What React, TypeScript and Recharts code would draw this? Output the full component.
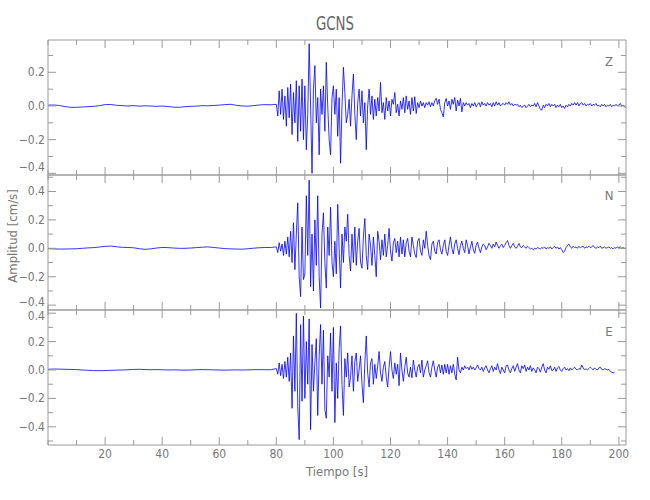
import React from 'react'
import { LineChart, Line, XAxis, YAxis } from 'recharts'

// sampling: pre-event every 2 s from 0 s, event window every 0.5 s from 80 s
const PRE_T0 = 0
const PRE_DT = 2
const EVT_T0 = 80
const EVT_DT = 0.5

const zPre = [
  0.005, 0.006, 0.003, -0.004, -0.008, -0.008, -0.006, -0.004, -0.002, 0.002,
  0.008, 0.009, 0.004, 0.002, 0.0, 0.002, -0.001, 0.001, 0.0, -0.002,
  0.0, -0.003, -0.007, -0.008, -0.004, -0.002, -0.001, 0.002, 0.001, 0.003,
  0.005, 0.008, 0.01, 0.004, 0.0, -0.001, 0.002, 0.006, 0.008, 0.007,
]
const zEvt = [
  0.01, -0.06, 0.09, -0.05, 0.1, -0.08, 0.06, -0.12, 0.11, -0.07,
  0.13, -0.17, 0.08, -0.1, 0.15, -0.21, 0.12, -0.15, 0.16, -0.2,
  0.12, -0.26, -0.05, 0.37, 0.0, -0.4, 0.1, 0.24, -0.1, 0.05,
  -0.29, 0.1, -0.05, 0.12, -0.15, 0.26, 0.0, -0.2, -0.29, 0.05,
  0.12, -0.05, 0.1, -0.18, 0.05, -0.34, 0.0, 0.23, 0.08, -0.1,
  -0.05, 0.04, -0.12, 0.06, 0.19, -0.05, -0.2, 0.02, 0.1, -0.06,
  0.09, -0.1, 0.02, -0.26, 0.0, 0.1, -0.05, 0.06, -0.08, 0.04,
  -0.06, 0.05, -0.03, 0.14, -0.04, 0.02, -0.08, 0.05, -0.03, 0.03,
  -0.06, 0.04, 0.01, 0.08, -0.04, 0.01, -0.06, 0.03, -0.02, 0.05,
  -0.04, 0.06, -0.02, 0.03, -0.05, 0.05, -0.03, 0.055, -0.045, 0.02,
  -0.01, 0.03, 0.0, 0.02, -0.01, 0.02, 0.005, 0.025, -0.005, 0.02,
  0.0, 0.03, 0.045, 0.01, 0.04, -0.02, -0.04, -0.065, 0.02, 0.045,
  0.0, 0.03, -0.02, 0.04, 0.01, 0.05, -0.03, 0.035, 0.0, 0.045,
  -0.035, 0.02, 0.0, 0.02, 0.005, 0.015, -0.01, 0.015, 0.0, 0.02,
  -0.005, 0.01, 0.02, -0.005, 0.025, 0.005, 0.015, 0.0, 0.02, 0.005,
  0.015, -0.005, 0.02, 0.0, 0.025, 0.005, 0.02, 0.0, 0.01, 0.015,
  0.005, 0.02, 0.01, 0.025, 0.005, 0.015, 0.0, 0.01, 0.005, 0.01,
  -0.005, 0.005, -0.01, 0.0, 0.005, -0.01, 0.0, 0.01, -0.005, 0.005,
  0.0, 0.015, -0.005, 0.02, 0.0, -0.02, -0.025, 0.005, -0.01, 0.01,
  0.0, 0.015, -0.005, 0.01, 0.0, 0.01, -0.01, 0.005, -0.005, 0.01,
  -0.01, 0.0, -0.015, 0.005, -0.005, 0.01, 0.0, 0.015, 0.005, 0.02,
  0.005, 0.02, 0.0, 0.015, 0.02, 0.005, 0.015, 0.0, 0.01, 0.005,
  0.015, 0.0, 0.01, 0.005, 0.015, 0.0, 0.005, -0.005, 0.01, 0.0,
  0.01, -0.005, 0.005, 0.0, 0.01, -0.005, 0.005, 0.0, 0.01, 0.0,
  0.005, 0.015, 0.0, 0.005, -0.005, -0.01,
]

const nPre = [
  -0.002, -0.004, -0.005, -0.005, -0.004, -0.003, 0.0, 0.003, 0.005, 0.009,
  0.014, 0.016, 0.011, 0.007, 0.006, 0.004, -0.003, -0.007, -0.004, 0.002,
  0.006, 0.005, 0.002, 0.0, 0.0, 0.002, 0.005, 0.008, 0.01, 0.006,
  0.002, -0.002, -0.004, -0.005, -0.006, -0.003, 0.001, 0.004, 0.006, 0.006,
]
const nEvt = [
  0.01, -0.03, 0.04, -0.02, 0.03, -0.05, 0.05, -0.04, 0.08, -0.06,
  0.12, -0.1, 0.18, -0.15, 0.1, 0.32, -0.2, -0.34, 0.15, -0.22,
  -0.18, 0.37, -0.05, 0.48, -0.27, 0.1, -0.3, 0.2, -0.12, 0.37,
  -0.2, -0.42, 0.1, 0.25, -0.1, -0.28, 0.15, -0.05, 0.29, -0.1,
  -0.2, 0.05, -0.18, 0.31, 0.0, -0.28, 0.1, -0.1, 0.15, 0.05,
  0.24, -0.05, -0.16, 0.1, -0.1, 0.15, -0.12, 0.05, 0.14, -0.1,
  -0.14, 0.08, 0.21, -0.05, -0.15, 0.1, 0.02, -0.12, 0.08, -0.05,
  -0.2, 0.12, 0.05, -0.08, 0.06, -0.05, 0.1, -0.06, 0.02, 0.14,
  -0.02, -0.09, 0.04, 0.07, -0.03, 0.05, -0.06, 0.08, -0.04, 0.06,
  -0.06, 0.04, 0.07, -0.02, -0.06, 0.08, 0.02, -0.04, -0.065, 0.05,
  0.07, -0.02, -0.05, 0.06, 0.0, 0.12, 0.02, -0.05, -0.08, 0.03,
  0.05, -0.02, -0.04, 0.04, 0.06, -0.01, -0.04, 0.02, 0.06, -0.02,
  -0.05, 0.02, 0.08, 0.0, -0.04, 0.03, 0.06, 0.0, -0.045, 0.02,
  0.05, 0.0, -0.03, 0.06, 0.02, -0.04, 0.01, 0.05, -0.01, -0.035,
  0.02, 0.045, 0.0, -0.03, 0.01, 0.03, 0.02, -0.01, 0.01, 0.035,
  0.02, 0.0, 0.03, 0.01, 0.045, 0.02, 0.0, 0.02, 0.03, 0.005,
  0.02, 0.04, 0.055, 0.02, 0.0, 0.02, 0.035, 0.01, 0.0, 0.015,
  0.035, 0.01, 0.005, 0.02, 0.01, 0.0, 0.015, 0.005, -0.005, 0.0,
  -0.01, 0.0, -0.005, 0.005, 0.0, -0.005, 0.005, 0.0, 0.01, -0.005,
  0.005, 0.0, 0.01, -0.005, 0.005, 0.015, 0.0, 0.01, -0.005, 0.005,
  -0.01, -0.03, -0.02, 0.005, 0.02, 0.03, 0.01, 0.0, 0.015, 0.005,
  0.01, 0.0, 0.015, 0.005, 0.01, 0.015, 0.0, 0.01, 0.005, 0.015,
  0.005, 0.01, 0.02, 0.005, 0.0, 0.01, 0.005, 0.015, 0.0, 0.005,
  0.01, 0.0, 0.005, 0.01, 0.0, 0.005, -0.005, 0.005, 0.0, 0.01,
  0.005, 0.01, 0.0, 0.005, 0.0, 0.0,
]

const ePre = [
  0.005, 0.007, 0.006, 0.005, 0.004, 0.003, 0.0, -0.002, -0.004, -0.005,
  -0.004, -0.002, -0.001, 0.0, 0.002, 0.004, 0.005, 0.003, 0.002, 0.003,
  0.002, 0.0, 0.001, 0.0, -0.001, 0.0, 0.002, 0.003, 0.002, 0.001,
  0.0, -0.001, 0.0, 0.001, 0.0, 0.001, 0.002, 0.003, 0.002, 0.002,
]
const eEvt = [
  0.01, -0.03, 0.05, -0.04, 0.04, -0.06, 0.06, -0.05, 0.09, -0.08,
  0.12, -0.27, 0.24, -0.15, 0.4, -0.26, -0.49, 0.32, -0.22, 0.38,
  -0.2, 0.2, -0.1, 0.36, -0.42, 0.18, -0.15, 0.05, 0.22, -0.32,
  0.1, 0.32, -0.1, 0.28, -0.28, -0.34, 0.1, -0.05, 0.26, -0.15,
  0.3, -0.37, 0.05, -0.2, 0.15, 0.31, -0.1, -0.32, 0.08, -0.05,
  0.12, -0.12, -0.05, 0.1, -0.15, 0.06, 0.12, -0.08, 0.0, 0.1,
  -0.1, -0.23, 0.05, 0.24, -0.02, -0.12, 0.05, 0.08, -0.1, 0.04,
  -0.06, 0.03, 0.13, -0.02, -0.08, 0.02, 0.06, -0.05, -0.12, 0.02,
  0.13, 0.0, -0.06, 0.05, -0.03, 0.04, -0.11, 0.12, 0.0, -0.08,
  0.02, 0.09, -0.02, -0.05, 0.02, -0.055, 0.07, 0.0, -0.05, 0.02,
  0.04, -0.02, 0.07, -0.05, 0.0, 0.03, 0.065, -0.02, -0.05, 0.02,
  0.065, 0.0, -0.05, 0.02, 0.04, -0.02, 0.035, -0.03, 0.04, -0.02,
  0.04, -0.03, 0.03, -0.02, 0.04, -0.03, -0.07, 0.09, 0.0, -0.02,
  0.02, 0.0, 0.03, 0.01, 0.02, 0.0, 0.03, 0.005, 0.02, 0.0,
  0.015, 0.035, 0.01, 0.0, 0.02, -0.01, 0.015, 0.03, 0.0, -0.02,
  0.01, 0.03, -0.01, 0.02, 0.0, 0.045, 0.0, -0.025, 0.02, 0.0,
  -0.02, 0.03, 0.035, 0.0, -0.02, 0.01, 0.03, -0.01, 0.02, 0.045,
  0.0, -0.02, 0.03, 0.01, 0.035, -0.01, 0.02, 0.0, 0.03, -0.01,
  0.015, 0.0, -0.02, 0.02, 0.01, -0.015, 0.02, 0.045, 0.0, -0.02,
  0.02, 0.005, 0.03, -0.005, 0.0, 0.02, -0.01, 0.015, 0.025, 0.0,
  -0.01, 0.01, 0.02, 0.0, 0.01, -0.005, 0.015, 0.0, 0.01, 0.02,
  0.005, 0.0, 0.01, 0.005, 0.035, 0.015, 0.0, 0.01, 0.0, 0.01,
  0.02, 0.01, 0.0, 0.015, 0.005, 0.0, 0.015, 0.02, 0.005, 0.0,
  0.01, 0.005, 0.0, 0.005, -0.01, -0.015, -0.02, -0.015,
]

const xTicks = [0, 10, 20, 30, 40, 50, 60, 70, 80, 90, 100, 110, 120, 130, 140, 150, 160, 170, 180, 190, 200]
const xLabelTicks = [20, 40, 60, 80, 100, 120, 140, 160, 180, 200]
const zTicks = [-0.4, -0.3, -0.2, -0.1, 0, 0.1, 0.2, 0.3]
const nTicks = [-0.4, -0.3, -0.2, -0.1, 0, 0.1, 0.2, 0.3, 0.4, 0.5]
const eTicks = [-0.5, -0.4, -0.3, -0.2, -0.1, 0, 0.1, 0.2, 0.3, 0.4]
const yLabelTicks = [-0.4, -0.2, 0, 0.2, 0.4]

const buildTrace = (pre: number[], evt: number[]) => [
  ...pre.map((a, i) => ({ t: PRE_T0 + i * PRE_DT, a })),
  ...evt.map((a, i) => ({ t: EVT_T0 + i * EVT_DT, a })),
]

const FONT = "'Liberation Sans Narrow', 'DejaVu Sans Condensed', 'Liberation Sans', sans-serif"
const AXIS = '#9a9a9a'
const TEXT = '#777'
const X_DOMAIN: [number, number] = [0, 202.5]
const PLOT_LEFT = 48
const PLOT_RIGHT_GAP = 24
const PANEL_H = 135
const PAD = 12

const fmt = (v: number) => {
  const s = Math.abs(v).toFixed(1)
  return v < -1e-9 ? '\u2212' + s : s
}
const isYLabel = (v: number) => yLabelTicks.some((l) => Math.abs(l - v) < 1e-6)

// keep edge labels inside their own panel so neighbouring panels don't collide
const LeftTick = (props: any) => {
  const { x, y, payload } = props
  const major = isYLabel(payload.value)
  const baseline = Math.min(Math.max(y + 4, PAD + 10), PAD + PANEL_H - 4)
  return (
    <g>
      <line x1={x} x2={x + (major ? 8 : 5)} y1={y} y2={y} stroke={AXIS} />
      {major && (
        <text x={x - 3} y={baseline} textAnchor="end" fontSize={12} fontFamily={FONT} fill={TEXT}>
          {fmt(payload.value)}
        </text>
      )}
    </g>
  )
}

const RightTick = (props: any) => {
  const { x, y, payload } = props
  const major = isYLabel(payload.value)
  return <line x1={x} x2={x - (major ? 8 : 5)} y1={y} y2={y} stroke={AXIS} />
}

const TopTick = (props: any) => {
  const { x, y, payload } = props
  const major = xLabelTicks.includes(payload.value)
  return <line x1={x} x2={x} y1={y} y2={y + (major ? 8 : 5)} stroke={AXIS} />
}

const makeBottomTick = (showLabels: boolean) => (props: any) => {
  const { x, y, payload } = props
  const major = xLabelTicks.includes(payload.value)
  return (
    <g>
      <line x1={x} x2={x} y1={y} y2={y - (major ? 8 : 5)} stroke={AXIS} />
      {showLabels && major && (
        <text x={x} y={y + 13} textAnchor="middle" fontSize={12} fontFamily={FONT} fill={TEXT}>
          {payload.value}
        </text>
      )}
    </g>
  )
}

interface PanelProps {
  data: { t: number; a: number }[]
  domain: [number, number]
  ticks: number[]
  top: number
  showX: boolean
}

const Panel = ({ data, domain, ticks, top, showX }: PanelProps) => {
  const padBottom = showX ? 36 : PAD
  return (
    <div style={{ position: 'absolute', left: 0, top: top - PAD }}>
      <LineChart
        width={650}
        height={PANEL_H + PAD + padBottom}
        data={data}
        margin={{ top: PAD - 1, bottom: padBottom - 1, left: 0, right: PLOT_RIGHT_GAP - 1 }}
      >
        <XAxis
          xAxisId="b"
          dataKey="t"
          type="number"
          domain={X_DOMAIN}
          allowDataOverflow
          ticks={xTicks}
          interval={0}
          height={1}
          tickSize={0}
          tickMargin={0}
          stroke={AXIS}
          tick={makeBottomTick(showX)}
        />
        <XAxis
          xAxisId="t"
          orientation="top"
          dataKey="t"
          type="number"
          domain={X_DOMAIN}
          allowDataOverflow
          ticks={xTicks}
          interval={0}
          height={1}
          tickSize={0}
          tickMargin={0}
          stroke={AXIS}
          tick={TopTick}
        />
        <YAxis
          yAxisId="l"
          type="number"
          domain={domain}
          allowDataOverflow
          ticks={ticks}
          interval={0}
          width={PLOT_LEFT}
          tickSize={0}
          tickMargin={0}
          stroke={AXIS}
          tick={LeftTick}
        />
        <YAxis
          yAxisId="r"
          orientation="right"
          type="number"
          domain={domain}
          allowDataOverflow
          ticks={ticks}
          interval={0}
          width={1}
          tickSize={0}
          tickMargin={0}
          stroke={AXIS}
          tick={RightTick}
        />
        <Line
          xAxisId="b"
          yAxisId="l"
          type="linear"
          dataKey="a"
          stroke="#0000ff"
          strokeWidth={0.8}
          dot={false}
          isAnimationActive={false}
        />
      </LineChart>
    </div>
  )
}

export default function App() {
  return (
    <div style={{ position: 'absolute', left: 0, top: 0, width: 650, height: 500, background: '#fff' }}>
      <Panel data={buildTrace(zPre, zEvt)} domain={[-0.41, 0.392]} ticks={zTicks} top={40} showX={false} />
      <Panel data={buildTrace(nPre, nEvt)} domain={[-0.434, 0.516]} ticks={nTicks} top={175} showX={false} />
      <Panel data={buildTrace(ePre, eEvt)} domain={[-0.528, 0.4225]} ticks={eTicks} top={310} showX={true} />
      <svg width={650} height={500} style={{ position: 'absolute', left: 0, top: 0, pointerEvents: 'none' }}>
        <text x={335} y={30} textAnchor="middle" fontSize={19} fontFamily={FONT} fill="#666" textLength={38} lengthAdjust="spacingAndGlyphs">
          GCNS
        </text>
        <text x={609} y={66} textAnchor="middle" fontSize={13} fontFamily={FONT} fill={TEXT}>Z</text>
        <text x={609} y={200} textAnchor="middle" fontSize={13} fontFamily={FONT} fill={TEXT}>N</text>
        <text x={609} y={336} textAnchor="middle" fontSize={13} fontFamily={FONT} fill={TEXT}>E</text>
        <text x={337} y={476} textAnchor="middle" fontSize={13} fontFamily={FONT} fill={TEXT}>
          Tiempo [s]
        </text>
        <text
          x={0}
          y={0}
          transform="translate(17 236) rotate(-90)"
          textAnchor="middle"
          fontSize={13}
          fontFamily={FONT}
          fill={TEXT}
        >
          Amplitud [cm/s]
        </text>
      </svg>
    </div>
  )
}
